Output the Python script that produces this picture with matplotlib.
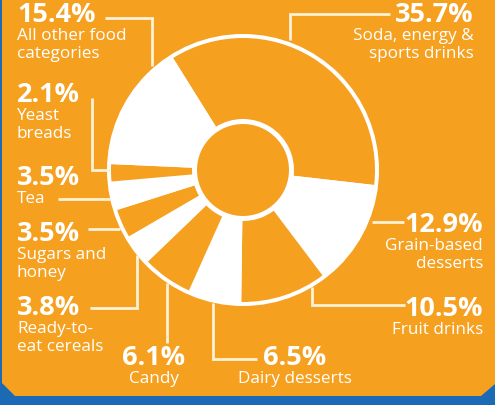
import matplotlib.pyplot as plt
from matplotlib.patches import Circle, Polygon

# shares of added sugars, clockwise from the top
categories = ['Soda, energy &\nsports drinks', 'Grain-based\ndesserts', 'Fruit drinks',
              'Dairy desserts', 'Candy', 'Ready-to-\neat cereals', 'Sugars and\nhoney',
              'Tea', 'Yeast\nbreads', 'All other food\ncategories']
shares = [35.7, 12.9, 10.5, 6.5, 6.1, 3.8, 3.5, 3.5, 2.1, 15.4]
pct_labels = ['35.7%', '12.9%', '10.5%', '6.5%', '6.1%', '3.8%', '3.5%', '3.5%', '2.1%', '15.4%']

ORANGE = '#F6A01F'
BLUE = '#1B6AB5'
CREAM = '#FDF1D6'
H = 405

fig = plt.figure(figsize=(4.95, 4.05), dpi=100, facecolor=BLUE)
ax = fig.add_axes([0, 0, 1, 1])
ax.set_facecolor(BLUE)

def Y(y):
    return H - y

# orange card with clipped bottom corners
card = [(2, 0), (495, 0), (495, 384), (481, 396), (15, 396), (2, 383)]
ax.add_patch(Polygon([(x, Y(y)) for x, y in card], closed=True, color=ORANGE, lw=0))

cx, cy = 243, Y(170)
ax.add_patch(Circle((cx, cy), 136, color='white', lw=0))
colors = [ORANGE if i % 2 == 0 else 'white' for i in range(len(shares))]
ax.pie(shares, colors=colors, startangle=122, counterclock=False,
       center=(cx, cy), radius=132, wedgeprops=dict(width=81, linewidth=0))
ax.add_patch(Circle((cx, cy), 46, color=ORANGE, lw=0))

# leader lines (pixel coords)
leaders = [
    [(290, 40), (290, 14), (390, 14)],
    [(372, 222), (404, 222)],
    [(312, 287), (312, 305), (405, 305)],
    [(213, 303), (213, 359), (257, 359)],
    [(167, 283), (167, 343)],
    [(90, 308), (137, 308), (137, 255)],
    [(88, 229), (120, 229)],
    [(58, 199), (110, 199)],
    [(92, 98), (92, 170), (110, 170)],
    [(105, 18), (152, 18), (152, 66)],
]
for pts in leaders:
    ax.plot([p[0] for p in pts], [Y(p[1]) for p in pts], color=CREAM, lw=2.0,
            solid_capstyle='butt', solid_joinstyle='miter')

# label anchors: x, baseline of the percentage, alignment
anchors = [
    (474, 22, 'right'), (483, 232, 'right'), (483, 316, 'right'),
    (295, 365, 'center'), (154, 365, 'center'), (17, 315, 'left'),
    (17, 241, 'left'), (17, 185, 'left'), (17, 102, 'left'), (17, 22, 'left'),
]
FONT = 'Open Sans'
for (x, yb, ha), pct, name in zip(anchors, pct_labels, categories):
    ax.text(x, Y(yb), pct, ha=ha, va='baseline', color='white',
            fontsize=19.5, fontweight='bold', family=FONT)
    for j, line in enumerate(name.split('\n')):
        ax.text(x, Y(yb + 18 + 18 * j), line, ha=ha, va='baseline', color='white',
                fontsize=12.3, family=FONT)

ax.set_xlim(0, 495)
ax.set_ylim(0, H)
ax.set_aspect('auto')
ax.set_axis_off()

fig.savefig('out.png', dpi=100, facecolor=BLUE)
